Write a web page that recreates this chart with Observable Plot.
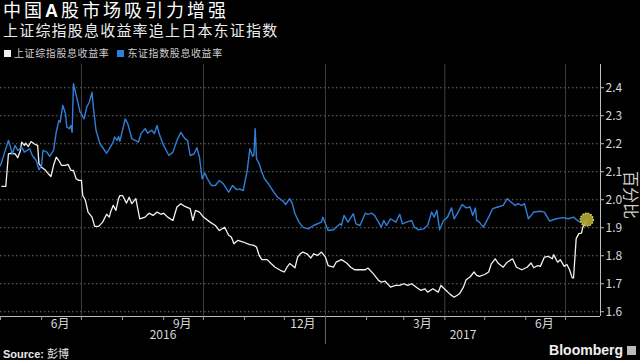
<!DOCTYPE html>
<html><head><meta charset="utf-8">
<script src="https://cdn.jsdelivr.net/npm/d3@7"></script>
<script src="https://cdn.jsdelivr.net/npm/@observablehq/plot@0.6"></script>
<style>
body{margin:0;background:#000;width:640px;height:360px;overflow:hidden;position:relative;font-family:"Liberation Sans","Noto Sans CJK SC",sans-serif;color:#fff}
#title{position:absolute;left:3px;top:1px;font-size:18px;line-height:20px;letter-spacing:3px;white-space:nowrap;color:#fff}
#subtitle{position:absolute;left:3px;top:22px;font-size:15px;line-height:17px;letter-spacing:1.2px;color:#ececec;white-space:nowrap}
#legend{position:absolute;left:4px;top:48px;font-size:10px;line-height:11px;letter-spacing:0.6px;color:#cfcfcf;white-space:nowrap}
#legend span.item{margin-right:8px}
.sw{display:inline-block;width:7px;height:7px;margin-right:3px;vertical-align:0px}
#chart{position:absolute;left:0;top:58px}
#unit{position:absolute;left:630px;top:195px;transform:translate(-50%,-50%) rotate(90deg);font-size:16px;line-height:18px;color:#cfcfcf;white-space:nowrap}
#source{position:absolute;left:3px;top:345px;font-size:11px;color:#e8e8e8;white-space:nowrap}
#brand{position:absolute;right:4px;top:342px;font-size:14px;font-weight:bold;color:#f0f0f0;font-family:"Liberation Sans Narrow","Liberation Sans",sans-serif;white-space:nowrap}
#brand i{display:inline-block;width:9px;height:9px;background:#bbb;margin-left:4px;vertical-align:0px}
</style></head>
<body>
<div id="title">中国<b>A</b>股市场吸引力增强</div>
<div id="subtitle">上证综指股息收益率追上日本东证指数</div>
<div id="legend"><span class="item"><span class="sw" style="background:#f2f2f2"></span>上证综指股息收益率</span><span class="item"><span class="sw" style="background:#2f7fd8"></span>东证指数股息收益率</span></div>
<div id="chart"></div>
<div id="unit">百分比</div>
<div id="source"><b>Source:</b> 彭博</div>
<div id="brand">Bloomberg<i></i></div>
<script>
const yTicks = [1.6,1.7,1.8,1.9,2.0,2.1,2.2,2.3,2.4];
const quarterStarts = ["2016-07-01","2016-10-01","2017-01-01","2017-04-01","2017-07-01"];
const monthLabelDates = ["2016-06-15","2016-09-15","2016-12-15","2017-03-15","2017-06-15"];
const monthLabels = ["6月","9月","12月","3月","6月"];
const yearLabels = ["2016","2017"];
const yearBoundary = "2017-01-01";

const blueDates = [
"2016-05-01","2016-05-07","2016-05-10","2016-05-12","2016-05-14","2016-05-17","2016-05-19","2016-05-23","2016-05-25","2016-05-28",
"2016-05-30","2016-06-01","2016-06-02","2016-06-05","2016-06-07","2016-06-10","2016-06-12","2016-06-14","2016-06-15","2016-06-17",
"2016-06-19","2016-06-20","2016-06-22","2016-06-23","2016-06-24","2016-06-25","2016-06-28","2016-06-30","2016-07-01","2016-07-03",
"2016-07-05","2016-07-07","2016-07-09","2016-07-10","2016-07-12","2016-07-15","2016-07-20","2016-07-22","2016-07-25","2016-07-26",
"2016-07-28","2016-07-29","2016-07-30","2016-08-03","2016-08-05","2016-08-08","2016-08-13","2016-08-15","2016-08-18","2016-08-20",
"2016-08-23","2016-08-25","2016-08-27","2016-08-29","2016-09-01","2016-09-05","2016-09-08","2016-09-11","2016-09-14","2016-09-17",
"2016-09-19","2016-09-21","2016-09-24","2016-09-26","2016-09-28","2016-09-30","2016-10-02","2016-10-04","2016-10-07","2016-10-10",
"2016-10-13","2016-10-16","2016-10-20","2016-10-23","2016-10-26","2016-10-28","2016-10-31","2016-11-03","2016-11-05","2016-11-07",
"2016-11-08","2016-11-09","2016-11-10","2016-11-12","2016-11-14","2016-11-16","2016-11-19","2016-11-23","2016-11-26","2016-11-30",
"2016-12-02","2016-12-05","2016-12-07","2016-12-09","2016-12-12","2016-12-15","2016-12-19","2016-12-23","2016-12-29","2016-12-30",
"2017-01-01","2017-01-03","2017-01-07","2017-01-09","2017-01-12","2017-01-13","2017-01-15","2017-01-18","2017-01-22","2017-01-24",
"2017-01-27","2017-01-31","2017-02-02","2017-02-05","2017-02-07","2017-02-10","2017-02-12","2017-02-14","2017-02-16","2017-02-19",
"2017-02-23","2017-02-26","2017-02-28","2017-03-03","2017-03-07","2017-03-09","2017-03-12","2017-03-16","2017-03-19","2017-03-22",
"2017-03-24","2017-03-26","2017-03-28","2017-03-31","2017-04-03","2017-04-06","2017-04-08","2017-04-11","2017-04-14","2017-04-17",
"2017-04-20","2017-04-22","2017-04-24","2017-04-25","2017-04-27","2017-04-30","2017-05-04","2017-05-07","2017-05-11","2017-05-15",
"2017-05-18","2017-05-21","2017-05-24","2017-05-26","2017-05-29","2017-05-31","2017-06-03","2017-06-07","2017-06-12","2017-06-15",
"2017-06-19","2017-06-24","2017-06-29","2017-07-03","2017-07-07","2017-07-10","2017-07-12","2017-07-17"];
const blueValues = [
2.122,2.212,2.164,2.194,2.176,2.188,2.170,2.182,2.158,2.140,
2.107,2.123,2.176,2.170,2.155,2.176,2.241,2.283,2.277,2.337,
2.307,2.259,2.254,2.265,2.241,2.414,2.355,2.313,2.307,2.289,
2.331,2.349,2.384,2.331,2.248,2.200,2.166,2.182,2.206,2.224,
2.212,2.226,2.209,2.289,2.271,2.218,2.206,2.236,2.254,2.238,
2.248,2.236,2.265,2.230,2.194,2.158,2.170,2.212,2.241,2.218,
2.212,2.158,2.164,2.186,2.152,2.075,2.095,2.075,2.051,2.051,
2.069,2.057,2.027,2.051,2.036,2.039,2.033,2.105,2.182,2.155,
2.158,2.254,2.146,2.129,2.099,2.075,2.057,2.027,2.009,1.995,
1.983,2.004,1.986,1.950,1.920,1.902,1.896,1.908,1.920,1.938,
1.914,1.890,1.893,1.902,1.914,1.908,1.944,1.920,1.950,1.914,
1.908,1.952,1.948,1.952,1.944,1.920,1.902,1.926,1.908,1.932,
1.920,1.948,1.914,1.920,1.926,1.902,1.893,1.896,1.908,1.956,
1.938,1.962,1.893,1.926,1.938,1.971,1.932,1.956,1.983,1.971,
1.974,1.944,1.971,1.926,1.920,1.902,1.938,1.968,1.974,1.980,
2.004,1.991,1.980,1.986,1.980,1.986,1.932,1.956,1.959,1.956,
1.924,1.932,1.936,1.932,1.938,1.926,1.920,1.929];

const whiteDates = [
"2016-05-02","2016-05-05","2016-05-07","2016-05-09","2016-05-12","2016-05-14","2016-05-16","2016-05-17","2016-05-19","2016-05-20",
"2016-05-22","2016-05-24","2016-05-27","2016-05-29","2016-05-30","2016-06-01","2016-06-04","2016-06-06","2016-06-08","2016-06-10",
"2016-06-12","2016-06-14","2016-06-16","2016-06-19","2016-06-21","2016-06-23","2016-06-25","2016-06-27","2016-06-29","2016-07-01",
"2016-07-02","2016-07-04","2016-07-06","2016-07-09","2016-07-11","2016-07-14","2016-07-17","2016-07-20","2016-07-22","2016-07-23",
"2016-07-25","2016-07-27","2016-07-29","2016-07-30","2016-08-01","2016-08-04","2016-08-06","2016-08-08","2016-08-11","2016-08-14",
"2016-08-18","2016-08-21","2016-08-24","2016-08-27","2016-08-30","2016-09-01","2016-09-04","2016-09-08","2016-09-11","2016-09-14",
"2016-09-17","2016-09-21","2016-09-23","2016-09-25","2016-09-28","2016-10-01","2016-10-06","2016-10-10","2016-10-13","2016-10-17",
"2016-10-20","2016-10-22","2016-10-24","2016-10-27","2016-10-31","2016-11-03","2016-11-05","2016-11-08","2016-11-10","2016-11-12",
"2016-11-14","2016-11-18","2016-11-21","2016-11-24","2016-11-28","2016-12-01","2016-12-03","2016-12-05","2016-12-07","2016-12-09",
"2016-12-11","2016-12-13","2016-12-15","2016-12-18","2016-12-21","2016-12-23","2016-12-26","2016-12-29","2017-01-01","2017-01-03",
"2017-01-07","2017-01-09","2017-01-13","2017-01-17","2017-01-20","2017-01-23","2017-01-27","2017-01-31","2017-02-02","2017-02-06",
"2017-02-10","2017-02-12","2017-02-15","2017-02-19","2017-02-23","2017-02-26","2017-03-01","2017-03-04","2017-03-07","2017-03-11",
"2017-03-14","2017-03-17","2017-03-19","2017-03-23","2017-03-27","2017-03-29","2017-04-02","2017-04-05","2017-04-08","2017-04-12",
"2017-04-15","2017-04-17","2017-04-20","2017-04-23","2017-04-25","2017-04-27","2017-05-01","2017-05-04","2017-05-06","2017-05-09",
"2017-05-11","2017-05-15","2017-05-18","2017-05-22","2017-05-25","2017-05-29","2017-06-02","2017-06-05","2017-06-07","2017-06-10",
"2017-06-12","2017-06-15","2017-06-18","2017-06-21","2017-06-22","2017-06-25","2017-06-27","2017-06-30","2017-07-02","2017-07-04",
"2017-07-06","2017-07-07","2017-07-09","2017-07-11","2017-07-13","2017-07-14","2017-07-17"];
const whiteValues = [
2.048,2.048,2.164,2.166,2.164,2.150,2.176,2.206,2.194,2.202,
2.190,2.208,2.198,2.194,2.129,2.116,2.105,2.093,2.083,2.123,
2.152,2.140,2.123,2.123,2.126,2.105,2.105,2.075,2.069,2.069,
2.015,1.998,1.956,1.938,1.905,1.905,1.920,1.948,1.938,1.956,
1.980,1.962,2.004,2.015,2.015,1.988,2.009,1.986,2.004,1.932,
1.938,1.952,1.944,1.956,1.948,1.952,1.938,1.926,1.974,1.986,
1.976,1.968,1.926,1.962,1.956,1.938,1.920,1.908,1.890,1.902,
1.873,1.867,1.843,1.855,1.849,1.843,1.840,1.837,1.831,1.801,
1.786,1.786,1.772,1.759,1.748,1.742,1.759,1.772,1.765,1.757,
1.795,1.807,1.813,1.807,1.792,1.807,1.801,1.813,1.795,1.765,
1.759,1.777,1.786,1.774,1.759,1.750,1.750,1.750,1.756,1.736,
1.712,1.706,1.709,1.688,1.694,1.694,1.700,1.694,1.700,1.686,
1.676,1.682,1.670,1.682,1.670,1.694,1.676,1.662,1.652,1.664,
1.688,1.714,1.724,1.742,1.730,1.726,1.733,1.742,1.771,1.789,
1.774,1.759,1.777,1.789,1.759,1.750,1.759,1.774,1.757,1.765,
1.762,1.795,1.798,1.789,1.804,1.777,1.786,1.762,1.769,1.750,
1.721,1.721,1.861,1.879,1.881,1.902,1.924];

const parse = s => new Date(s + "T00:00:00Z");
const blue = blueDates.map((d, i) => ({date: parse(d), value: blueValues[i]}));
const white = whiteDates.map((d, i) => ({date: parse(d), value: whiteValues[i]}));
const last = blue[blue.length - 1];

const xStart = parse("2016-05-01"), xEnd = new Date(Date.UTC(2017, 6, 27, 8));
const yMin = 1.583, yMax = 2.483;
const boundary = parse(yearBoundary);
const years = [
  {year: yearLabels[0], mid: new Date((+xStart + +boundary) / 2)},
  {year: yearLabels[1], mid: new Date((+boundary + +xEnd) / 2)}
];
const monthLabelMap = new Map(monthLabelDates.map((d, i) => [+parse(d), monthLabels[i]]));
const fontNum = '"Liberation Sans Narrow","Noto Sans CJK SC","Noto Sans",sans-serif';

const chart = Plot.plot({
  width: 640, height: 300,
  marginLeft: 0, marginRight: 40, marginTop: 6, marginBottom: 42,
  style: {background: "transparent", color: "#d4d4d4", fontFamily: '"Noto Sans CJK SC","Noto Sans",sans-serif', fontSize: "12px"},
  x: {type: "utc", domain: [xStart, xEnd]},
  y: {domain: [yMin, yMax]},
  marks: [
    Plot.ruleY(yTicks, {stroke: "#6a6a6a", strokeDasharray: "1.5,2.5", strokeWidth: 1}),
    Plot.ruleX(quarterStarts.map(parse), {stroke: "#3e3e3e"}),
    Plot.ruleY([yMin], {stroke: "#bdbdbd"}),
    Plot.ruleX([xEnd], {stroke: "#bdbdbd"}),
    Plot.line(white, {x: "date", y: "value", stroke: "#f2f2f2", strokeWidth: 1.3}),
    Plot.line(blue, {x: "date", y: "value", stroke: "#2f7fd8", strokeWidth: 1.4}),
    Plot.dot([last], {x: "date", y: "value", r: 6.5, fill: "#b3a834", fillOpacity: 0.9, stroke: "#ece35e", strokeWidth: 1.2, strokeDasharray: "1.5,1.3"}),
    Plot.axisY({anchor: "right", label: null, ticks: yTicks, tickSize: 3, tickPadding: 2, tickFormat: d3.format(".1f"), fontSize: 12, fontFamily: fontNum, stroke: "#bdbdbd", fill: "#d8d8d8"}),
    Plot.axisX({label: null, ticks: d3.utcMonth.range(xStart, xEnd), tickSize: 4, tickFormat: () => "", stroke: "#9a9a9a"}),
    Plot.axisX({label: null, ticks: monthLabelDates.map(parse), tickSize: 0, tickPadding: 3, tickFormat: d => monthLabelMap.get(+d), fontSize: 12, fill: "#d8d8d8"}),
    Plot.axisX({label: null, ticks: [boundary], tickSize: 28, tickFormat: () => "", stroke: "#666"}),
    Plot.text(years, {x: "mid", text: "year", frameAnchor: "bottom", dy: 22, fontSize: 12, fontFamily: fontNum, fill: "#d8d8d8"})
  ]
});
document.getElementById("chart").appendChild(chart);
</script>
</body></html>
